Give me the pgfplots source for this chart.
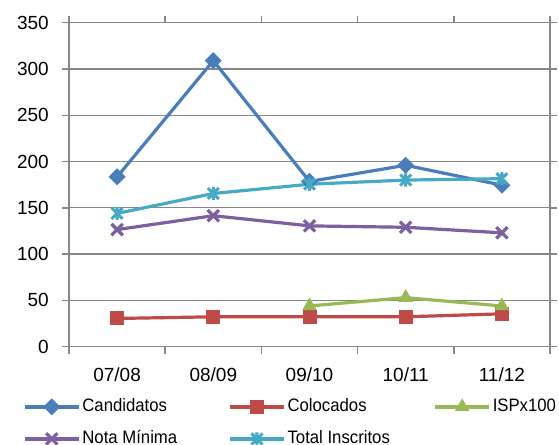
\documentclass[border=0pt]{standalone}
\usepackage{fontspec}
\setmainfont{Liberation Sans}
\newfontfamily\legfont{Liberation Sans}[FakeStretch=0.93]
\usepackage{pgfplots}
\pgfplotsset{compat=1.18}

\definecolor{cBlue}{HTML}{4A7EBB}
\definecolor{cRed}{HTML}{BE4B48}
\definecolor{cGreen}{HTML}{98B954}
\definecolor{cPurple}{HTML}{7D60A0}
\definecolor{cCyan}{HTML}{46AAC5}
\definecolor{cGrid}{HTML}{878787}

% star marker: an x with a vertical bar through it
\pgfdeclareplotmark{xstar}{%
  \pgfpathmoveto{\pgfpoint{-\pgfplotmarksize}{-\pgfplotmarksize}}%
  \pgfpathlineto{\pgfpoint{\pgfplotmarksize}{\pgfplotmarksize}}%
  \pgfpathmoveto{\pgfpoint{-\pgfplotmarksize}{\pgfplotmarksize}}%
  \pgfpathlineto{\pgfpoint{\pgfplotmarksize}{-\pgfplotmarksize}}%
  \pgfpathmoveto{\pgfpoint{0pt}{-1.2\pgfplotmarksize}}%
  \pgfpathlineto{\pgfpoint{0pt}{1.2\pgfplotmarksize}}%
  \pgfusepathqstroke}

\begin{document}
\begin{tikzpicture}
\begin{axis}[
  at={(69bp,98.3bp)}, anchor=south west,
  scale only axis, width=481bp, height=324bp,
  xmin=-0.5, xmax=4.5, ymin=0, ymax=350,
  xtick={-0.5,0.5,1.5,2.5,3.5,4.5},
  x tick label as interval,
  xticklabels={07/08,08/09,09/10,10/11,11/12},
  ytick={0,50,...,350},
  ymajorgrids,
  grid style={cGrid, line width=1.3bp},
  axis line style={cGrid, line width=1.5bp},
  tick style={cGrid, line width=1.5bp},
  tick align=outside, major tick length=7bp,
  /pgf/number format/assume math mode=true,
  ticklabel style={font=\fontsize{19bp}{22bp}\selectfont, inner sep=0pt},
  y tick label style={xshift=-13bp},
  x tick label style={yshift=-14bp},
  every axis plot/.append style={line width=3.2bp},
  legend columns=3,
  legend style={at={(-0.0957,-0.159)}, anchor=north west, draw=none,
    inner sep=0pt, column sep=2bp, row sep=15bp,
    font=\legfont\fontsize{18bp}{21bp}\selectfont,
    nodes={inner sep=0pt, text height=13bp, text depth=4bp}},
  legend cell align=left,
  legend image code/.code={\draw[mark repeat=2,mark phase=2,#1]
    plot coordinates {(0bp,0bp)(27bp,0bp)(54bp,0bp)};},
]
\addplot[cBlue, mark=square*, mark size=5.5bp,
  mark options={solid, rotate=45, line width=1bp}]
  coordinates {(0,183.5) (1,309) (2,178.5) (3,196) (4,174.5)};
\addlegendentry{\makebox[144bp][l]{Candidatos}}

\addplot[cRed, mark=square*, mark size=6.5bp,
  mark options={solid, line width=1bp, rounded corners=1.5bp}]
  coordinates {(0,30.5) (1,32.3) (2,32.3) (3,32.3) (4,35.5)};
\addlegendentry{\makebox[144bp][l]{Colocados}}

\addplot[cGreen, mark=triangle*, mark size=7.5bp,
  mark options={solid, line width=1bp}]
  coordinates {(2,44) (3,53) (4,44)};
\addlegendentry{ISPx100}

\addplot[cPurple, mark=x, mark size=8bp,
  mark options={solid, line width=3.2bp}]
  coordinates {(0,126.5) (1,141.5) (2,130.5) (3,129) (4,123)};
\addlegendentry{\makebox[144bp][l]{Nota Mínima}}

\addplot[cCyan, mark=xstar, mark size=5.5bp,
  mark options={solid, line width=3bp}]
  coordinates {(0,144) (1,165.5) (2,175.5) (3,180) (4,181.5)};
\addlegendentry{\makebox[144bp][l]{Total Inscritos}}
\end{axis}
\pgfresetboundingbox
\useasboundingbox (0,0) rectangle (559bp,445bp);
\end{tikzpicture}
\end{document}
